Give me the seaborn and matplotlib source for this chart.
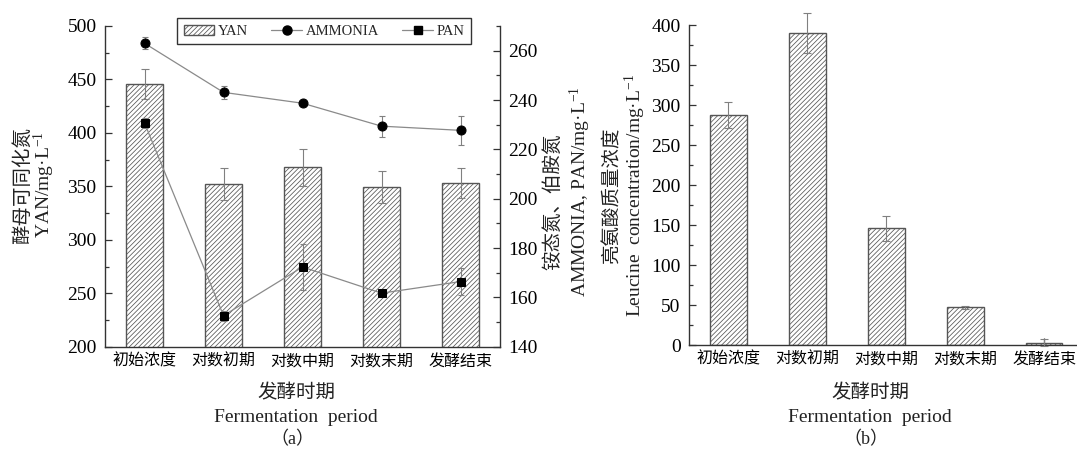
import numpy as np
import matplotlib
matplotlib.use("Agg")
import matplotlib.pyplot as plt
import seaborn as sns
import pandas as pd
from matplotlib.ticker import MultipleLocator
from matplotlib.patches import Patch
from matplotlib.lines import Line2D

# ---------------- data ----------------
stages = ['初始浓度', '对数初期', '对数中期', '对数末期', '发酵结束']
yan = [445.7, 351.9, 367.8, 349.4, 353.1]
yan_err = [14.2, 14.9, 17.2, 14.6, 14.1]
ammonia = [263.0, 243.1, 238.7, 229.4, 227.7]
ammonia_err = [2.4, 2.6, 1.0, 4.2, 6.0]
pan = [230.7, 152.6, 172.3, 161.7, 166.4]
pan_err = [2.0, 2.0, 9.2, 1.0, 5.3]
leucine = [287.5, 390.0, 145.8, 47.1, 3.0]
leucine_err = [16.0, 25.6, 15.3, 1.5, 4.0]

# ---------------- style ----------------
sns.set_style('ticks')
SERIF = 'Liberation Serif'
CJK = 'Noto Sans CJK SC'
plt.rcParams['font.family'] = [SERIF, CJK]
plt.rcParams['mathtext.fontset'] = 'custom'
plt.rcParams['mathtext.rm'] = SERIF
plt.rcParams['mathtext.it'] = SERIF + ':italic'
plt.rcParams['hatch.linewidth'] = 0.55
plt.rcParams['axes.edgecolor'] = '#333333'
plt.rcParams['axes.linewidth'] = 1.0

W, H = 1077, 449
fig = plt.figure(figsize=(W / 100, H / 100), dpi=100)

def fx(px):
    return px / W

def fy(py):
    return 1 - py / H

axA = fig.add_axes([fx(105), fy(346.7), fx(500 - 105), (346.7 - 26) / H])
axB = fig.add_axes([fx(689), fy(345), fx(1083.8 - 689), (345 - 25) / H])

EDGE = '#555555'
HATCH = '///////'
df_a = pd.DataFrame({'stage': stages, 'yan': yan})
df_b = pd.DataFrame({'stage': stages, 'leu': leucine})

sns.barplot(data=df_a, x='stage', y='yan', color='white', edgecolor=EDGE,
            linewidth=1.0, width=0.47, errorbar=None, ax=axA, zorder=2)
sns.barplot(data=df_b, x='stage', y='leu', color='white', edgecolor=EDGE,
            linewidth=1.0, width=0.46, errorbar=None, ax=axB, zorder=2)
for ax in (axA, axB):
    for p in ax.patches:
        p.set_hatch(HATCH)

xpos = np.arange(len(stages))
axA.errorbar(xpos, yan, yerr=yan_err, fmt='none', ecolor='#808080',
             elinewidth=0.8, capsize=3, capthick=0.8, zorder=3)
axB.errorbar(xpos, leucine, yerr=leucine_err, fmt='none', ecolor='#808080',
             elinewidth=0.8, capsize=3, capthick=0.8, zorder=3, clip_on=False)

# twin axis with ammonia / PAN
axR = axA.twinx()
axR.errorbar(xpos, ammonia, yerr=ammonia_err, fmt='none', ecolor='#808080',
             elinewidth=0.8, capsize=2.5, capthick=0.8, zorder=3)
axR.errorbar(xpos, pan, yerr=pan_err, fmt='none', ecolor='#808080',
             elinewidth=0.8, capsize=2.5, capthick=0.8, zorder=3)
sns.lineplot(x=xpos, y=ammonia, ax=axR, color='#8a8a8a', lw=0.9,
             marker='o', markersize=6.5, markerfacecolor='black',
             markeredgecolor='black', zorder=4)
sns.lineplot(x=xpos, y=pan, ax=axR, color='#8a8a8a', lw=0.9,
             marker='s', markersize=5.5, markerfacecolor='black',
             markeredgecolor='black', zorder=4)

# axes limits & ticks
axA.set_xlim(-0.5, 4.5)
axA.set_ylim(200, 500)
axA.yaxis.set_major_locator(MultipleLocator(50))
axA.yaxis.set_minor_locator(MultipleLocator(25))
axR.set_ylim(140, 270)
axR.yaxis.set_major_locator(MultipleLocator(20))
axR.yaxis.set_minor_locator(MultipleLocator(10))
axB.set_xlim(-0.5, 4.5)
axB.set_ylim(0, 400)
axB.yaxis.set_major_locator(MultipleLocator(50))
axB.yaxis.set_minor_locator(MultipleLocator(25))

for ax in (axA, axB, axR):
    ax.set_xlabel('')
    ax.set_ylabel('')
    ax.tick_params(which='both', direction='in', colors='#333333',
                   labelcolor='black', width=0.9)
    ax.tick_params(which='major', length=5)
    ax.tick_params(which='minor', length=3)
    ax.tick_params(axis='y', labelsize=14, pad=6)
    ax.spines['top'].set_visible(False)

axA.spines['right'].set_visible(False)
axB.spines['right'].set_visible(False)
axR.spines['left'].set_visible(False)
axR.spines['bottom'].set_visible(False)
axR.spines['right'].set_color('#333333')

for ax in (axA, axB):
    ax.set_xticks(xpos)
    ax.set_xticklabels(stages, fontsize=11.5, family=[CJK])
    ax.tick_params(axis='x', pad=4)
    ax.spines['left'].set_color('#333333')
    ax.spines['bottom'].set_color('#333333')

for lab in axA.get_yticklabels() + axR.get_yticklabels() + axB.get_yticklabels():
    lab.set_family([SERIF])

# legend
handles = [
    Patch(facecolor='white', edgecolor=EDGE, hatch=HATCH, linewidth=1.0),
    Line2D([], [], color='#8a8a8a', lw=0.9, marker='o', markersize=6.5,
           markerfacecolor='black', markeredgecolor='black'),
    Line2D([], [], color='#8a8a8a', lw=0.9, marker='s', markersize=5.5,
           markerfacecolor='black', markeredgecolor='black'),
]
leg = fig.legend(handles, ['YAN', 'AMMONIA', 'PAN'], ncol=3,
                 loc='upper left', bbox_to_anchor=(fx(177), fy(18)),
                 frameon=True, fancybox=False, edgecolor='black',
                 prop={'family': SERIF, 'size': 10.5},
                 handlelength=2.1, handletextpad=0.25, columnspacing=1.6,
                 borderpad=0.45, borderaxespad=0.0)
leg.get_frame().set_linewidth(1.0)

# y labels
UNIT = 'mg·L$^{-1}$'
fig.text(fx(22), fy(185), '酵母可同化氮', rotation=90, ha='center', va='center',
         fontsize=14, family=[CJK], color='#222222')
fig.text(fx(44), fy(185), 'YAN/' + UNIT, rotation=90, ha='center', va='center',
         fontsize=14, family=[SERIF], color='#222222')
fig.text(fx(553), fy(202), '铵态氮、伯胺氮', rotation=90, ha='center', va='center',
         fontsize=14, family=[CJK], color='#222222')
fig.text(fx(580), fy(192), 'AMMONIA, PAN/' + UNIT, rotation=90, ha='center',
         va='center', fontsize=14, family=[SERIF], color='#222222')
fig.text(fx(612), fy(195), '亮氨酸质量浓度', rotation=90, ha='center', va='center',
         fontsize=14, family=[CJK], color='#222222')
fig.text(fx(635), fy(195), 'Leucine  concentration/' + UNIT, rotation=90,
         ha='center', va='center', fontsize=14, family=[SERIF], color='#222222')

# x labels and panel tags
for cx, tag in ((296, '（a）'), (870, '（b）')):
    fig.text(fx(cx), fy(393), '发酵时期', ha='center', va='center',
             fontsize=14, family=[CJK], color='#222222')
    fig.text(fx(cx), fy(417), 'Fermentation  period', ha='center', va='center',
             fontsize=14, family=[SERIF], color='#222222')
    fig.text(fx(cx - 4), fy(440), tag, ha='center', va='center',
             fontsize=13, family=[SERIF, CJK], color='#222222')

fig.savefig('out.png', dpi=100, facecolor='white')
